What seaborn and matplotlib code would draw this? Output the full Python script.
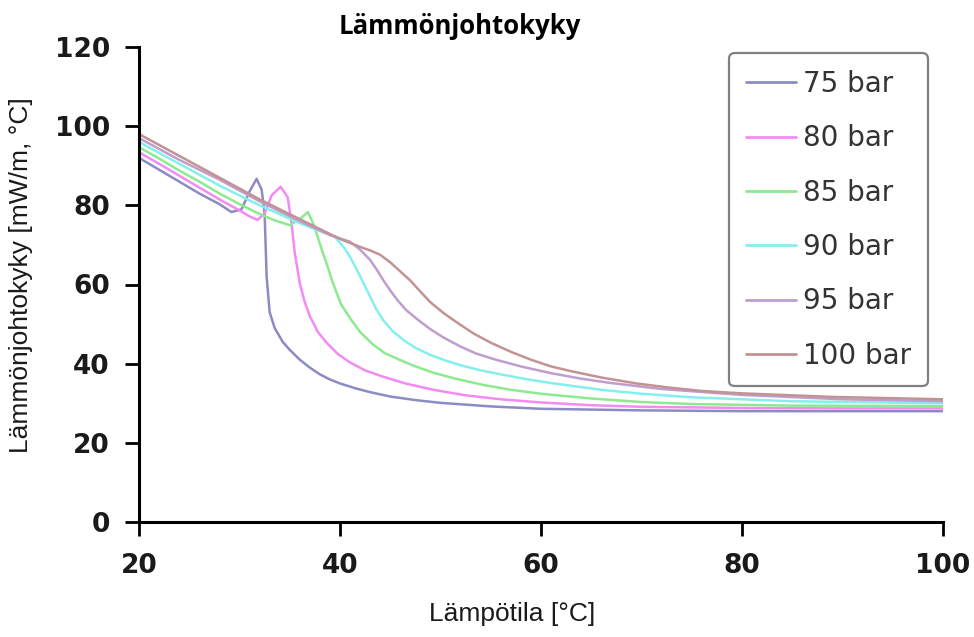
import matplotlib
matplotlib.use("Agg")
import matplotlib.pyplot as plt
import numpy as np
import pandas as pd
import seaborn as sns

# ---------------- data ----------------
labels = ["75 bar", "80 bar", "85 bar", "90 bar", "95 bar", "100 bar"]
colors = ["#8c8cc4", "#f58af5", "#8eea8e", "#84f0ee", "#bf9ecf", "#c39393"]

t_75 = [20, 22, 24, 26, 28, 29.2, 30.2, 31.0, 31.7, 32.2, 32.5, 32.7, 33.0, 33.5, 34.3,
        35.0, 36.0, 37.0, 38.0, 39.0, 40.0, 41.5, 43.0, 45.0, 47.5, 50.0, 55.0, 60.0,
        70.0, 80.0, 90.0, 100]
k_75 = [92, 89, 86, 83, 80.3, 78.3, 79, 83.5, 86.7, 84, 78, 62, 53, 49, 45.5,
        43.5, 41, 39, 37.3, 36, 35, 33.8, 32.8, 31.7, 30.8, 30.1, 29.2, 28.6,
        28.2, 28.0, 28.0, 28.0]

t_80 = [20, 22, 24, 26, 28, 30, 31.0, 31.8, 32.5, 33.2, 34.1, 34.8, 35.2, 35.5, 36.0,
        36.5, 37.0, 37.8, 38.7, 39.8, 41.0, 42.5, 44.3, 46.5, 49.3, 52.5, 56, 60,
        65, 70, 80, 90, 100]
k_80 = [93.4, 90.5, 87.5, 84.5, 81.5, 78.7, 77.2, 76.3, 78, 82.5, 84.7, 82, 75, 68, 60.3,
        55.5, 52, 48, 45.2, 42.4, 40.3, 38.3, 36.7, 35, 33.4, 32, 31, 30.2,
        29.5, 29.1, 28.8, 28.7, 28.7]

t_85 = [20, 22, 24, 26, 28, 30, 32, 33.5, 35.0, 36.0, 36.8, 37.4, 38.2, 38.8, 39.3,
        40.1, 41.0, 42.0, 43.3, 44.5, 46.0, 47.5, 49.3, 51.5, 54.3, 57, 60, 65,
        70, 75, 85, 100]
k_85 = [94.7, 91.8, 88.8, 86, 83, 80.3, 77.8, 76.2, 75, 76.5, 78.3, 75, 68.7, 64.3, 60.3,
        55, 51.5, 48, 44.8, 42.6, 40.9, 39.3, 37.7, 36.2, 34.6, 33.4, 32.4, 31.2,
        30.3, 29.8, 29.4, 29.3]

t_90 = [20, 24, 28, 32, 36, 38, 39.5, 40.5, 41.1, 41.7, 42.4, 43.0, 43.6, 44.3, 45.2,
        46.3, 47.5, 49.0, 50.5, 52, 54, 56, 58.5, 61, 66, 70, 75, 85, 100]
k_90 = [96, 90.5, 85, 80, 75.5, 73.5, 72, 69, 66.5, 63.6, 60, 56.9, 53.8, 51, 48.3,
        46, 44, 42.2, 40.8, 39.6, 38.3, 37.3, 36.1, 35.1, 33.4, 32.4, 31.5, 30.5, 30.0]

t_95 = [20, 24, 28, 32, 36, 39, 41, 42, 43, 43.7, 44.3, 45, 45.7, 46.6, 47.7,
        49, 50.3, 52, 53.5, 55.5, 58, 61, 64, 67, 72, 80, 90, 100]
k_95 = [97, 91.5, 86.5, 81, 76, 72.5, 70.8, 68.8, 66.2, 63.6, 61.1, 58.5, 56.1, 53.5, 51.2,
        48.7, 46.6, 44.3, 42.6, 41, 39.3, 37.6, 36.2, 35.1, 33.6, 32.1, 31, 30.5]

t_100 = [20, 24, 28, 32, 36, 40, 42, 43, 44, 45, 46, 47, 48, 49, 50.3,
         51.7, 53.3, 55, 57, 59, 61, 63, 66, 69.5, 72.6, 76, 80, 89, 100]
k_100 = [98, 92.5, 87, 81.5, 76.5, 71.5, 69.5, 68.6, 67.5, 65.6, 63.3, 61, 58.2, 55.5, 52.8,
         50.3, 47.6, 45.3, 43, 41, 39.3, 38.1, 36.5, 35, 34, 33.1, 32.5, 31.6, 31.0]

x_ticks = [20, 40, 60, 80, 100]
y_ticks = [0, 20, 40, 60, 80, 100, 120]

# ---------------- build long table ----------------
series_t = [t_75, t_80, t_85, t_90, t_95, t_100]
series_k = [k_75, k_80, k_85, k_90, k_95, k_100]
frames = []
for lab, tt, kk in zip(labels, series_t, series_k):
    frames.append(pd.DataFrame({"T": tt, "k": kk, "series": lab}))
df = pd.concat(frames, ignore_index=True)
palette = dict(zip(labels, colors))

# ---------------- plot ----------------
sns.set_theme(style="ticks")
plt.rcParams["font.family"] = ["DejaVu Sans"]

fig = plt.figure(figsize=(9.74, 6.37), dpi=100)
ax = fig.add_axes([139 / 974, 1 - 522 / 637, 804 / 974, 475 / 637])

sns.lineplot(data=df, x="T", y="k", hue="series", hue_order=labels, palette=palette,
             estimator=None, sort=False, linewidth=1.8, ax=ax)

ax.set_xlim(20, 100)
ax.set_ylim(0, 120)
ax.set_xticks(x_ticks)
ax.set_yticks(y_ticks)

for side in ["top", "right"]:
    ax.spines[side].set_visible(False)
for side in ["left", "bottom"]:
    ax.spines[side].set_linewidth(2.2)
    ax.spines[side].set_color("black")

ax.tick_params(axis="both", direction="out", length=10, width=2, color="black")
ax.tick_params(axis="y", pad=11)
ax.tick_params(axis="x", pad=12)
for lbl in ax.get_xticklabels() + ax.get_yticklabels():
    lbl.set_fontweight("bold")
    lbl.set_fontsize(19)
    lbl.set_color("#1a1a1a")
    lbl.set_family("DejaVu Sans")

ax.set_xlabel("Lämpötila [°C]", fontsize=19, family=["Liberation Sans", "DejaVu Sans"],
              color="#1a1a1a")
ax.xaxis.set_label_coords(0.4645, -0.168)
ax.xaxis.label.set_va("top")
ax.set_ylabel("Lämmönjohtokyky [mW/m, °C]", fontsize=19,
              family=["Liberation Sans", "DejaVu Sans"], color="#1a1a1a")
ax.yaxis.set_label_coords(-0.132, 0.52)

fig.text(460 / 974, 1 - 26 / 637, "Lämmönjohtokyky", ha="center", va="center",
         fontsize=18.5, fontweight="bold", family=["Open Sans", "DejaVu Sans"], color="black")

handles, labs = ax.get_legend_handles_labels()
for h in handles:
    h.set_linewidth(2)
leg = ax.legend(handles, labs, loc="upper right", bbox_to_anchor=(0.981, 0.987),
                frameon=True, fancybox=True, fontsize=20, handlelength=1.8,
                handletextpad=0.25, labelspacing=0.95, borderpad=0.6, borderaxespad=0)
leg.get_frame().set_edgecolor("#808080")
leg.get_frame().set_linewidth(1.6)
leg.get_frame().set_facecolor("white")
leg.get_frame().set_alpha(1)
for txt in leg.get_texts():
    txt.set_color("#333333")

fig.savefig("out.png", dpi=100)
